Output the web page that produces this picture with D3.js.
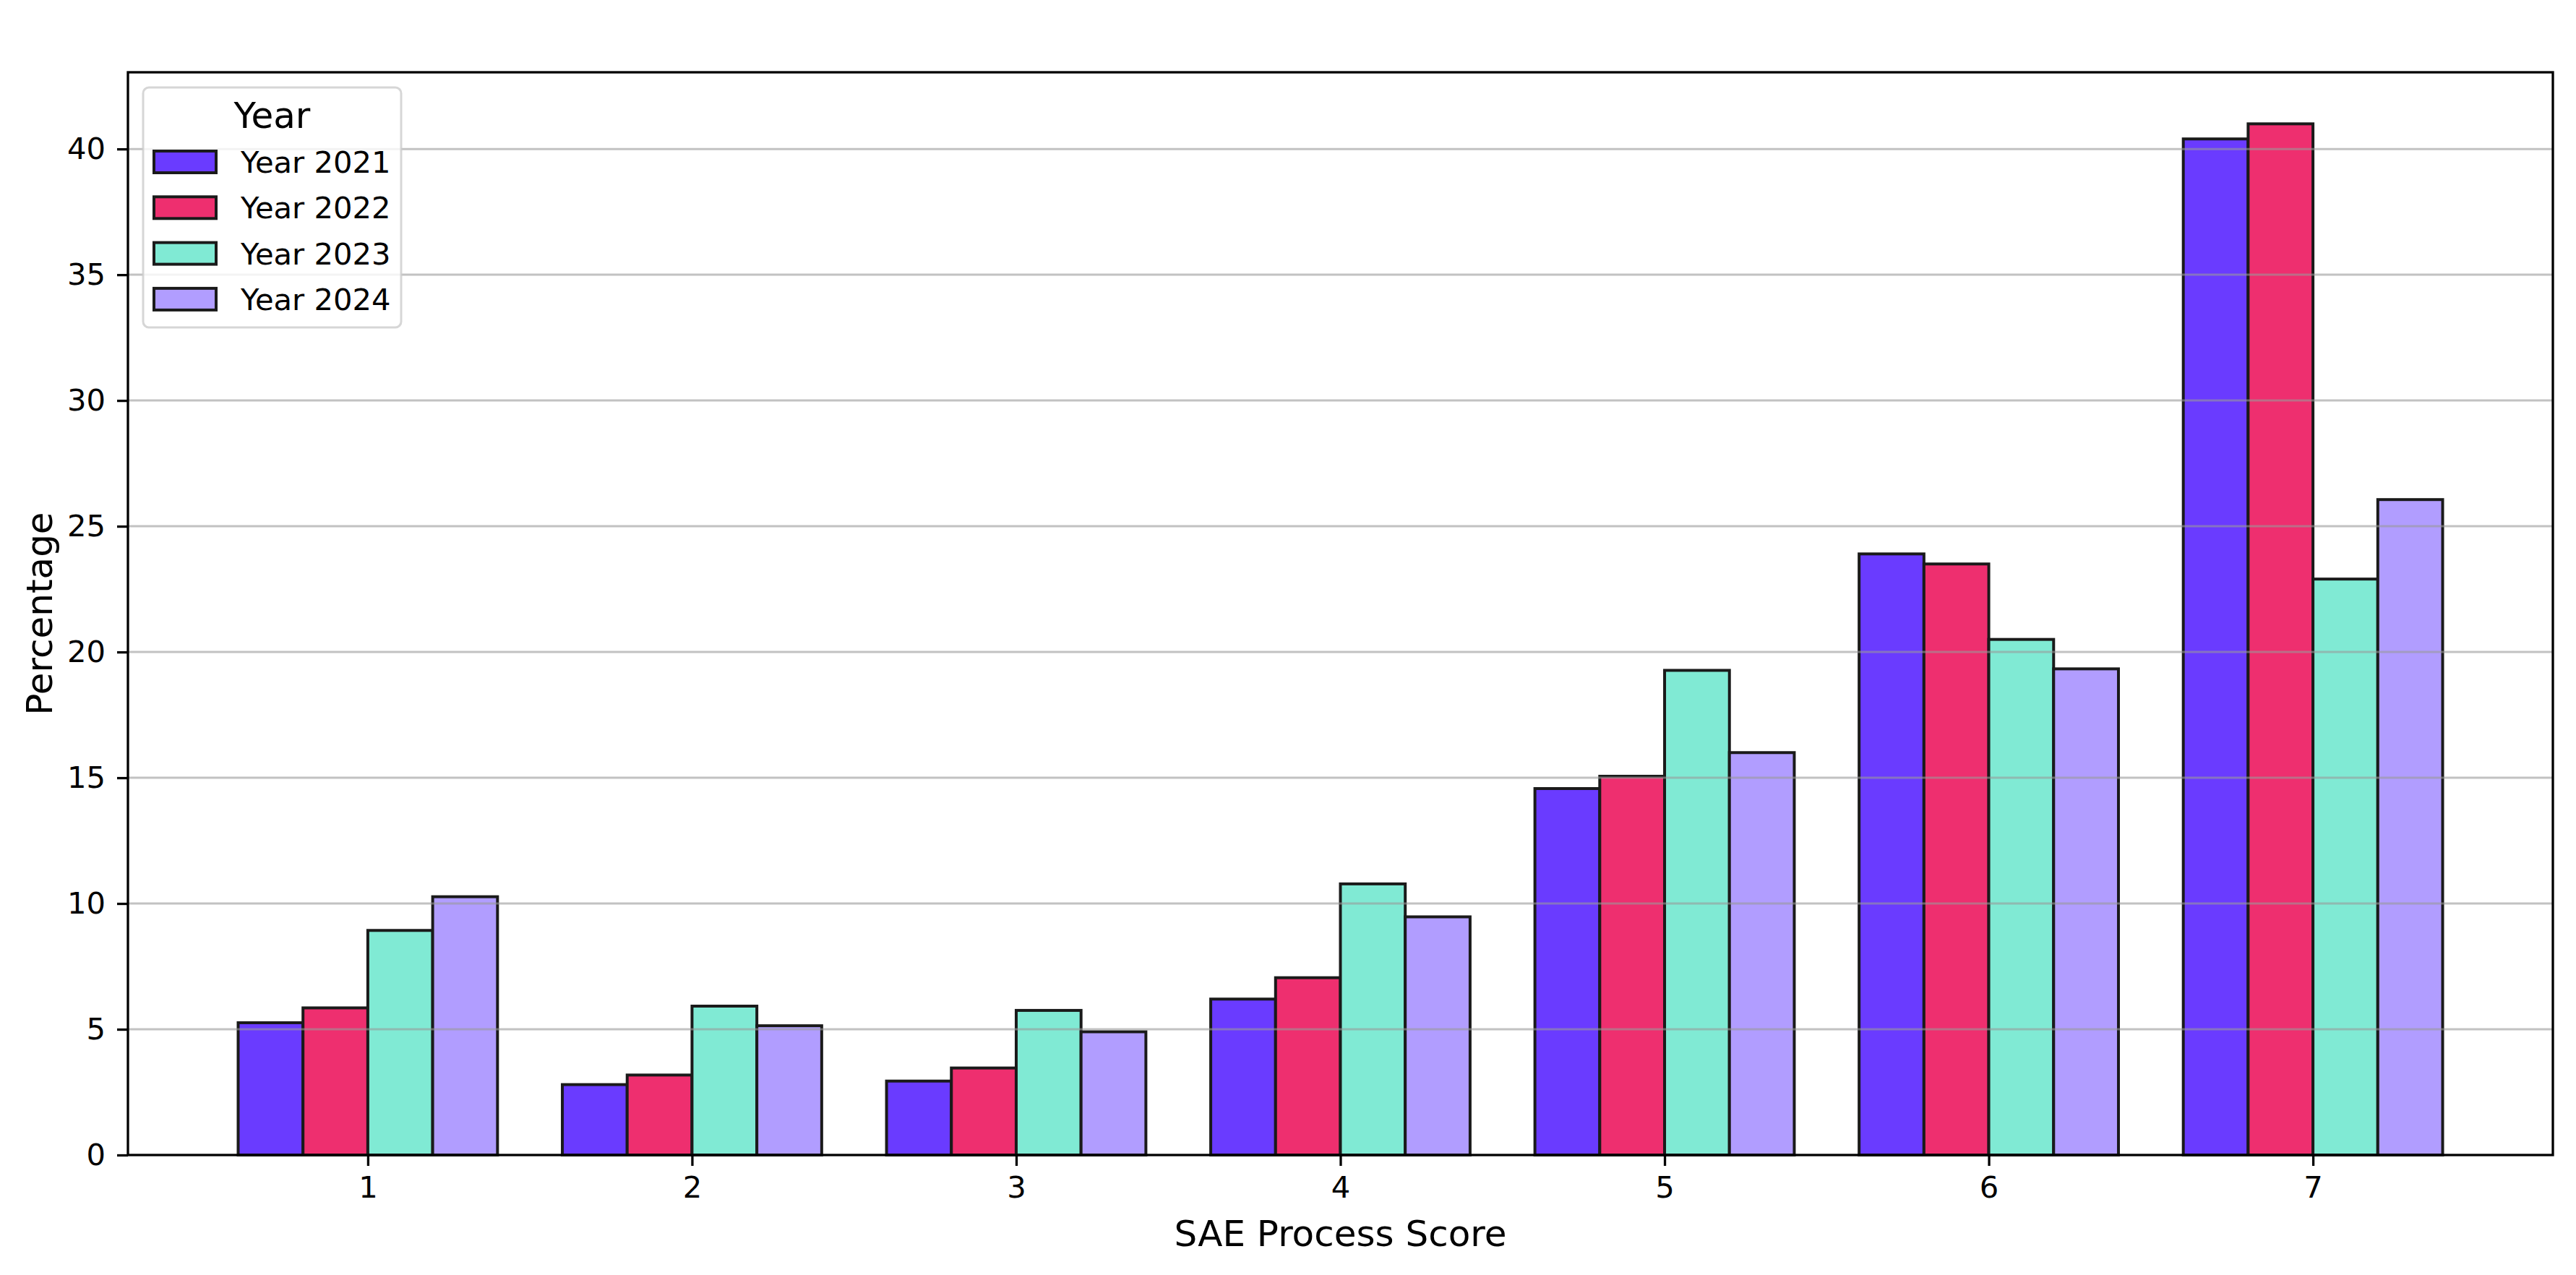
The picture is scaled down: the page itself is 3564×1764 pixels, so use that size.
<!DOCTYPE html>
<html lang="en">
<head>
  <meta charset="UTF-8">
  <title>SAE Process Score</title>
  <script src="https://d3js.org/d3.v7.min.js"></script>
  <style>
    body { margin: 0; background: #fff; }
    text { font-family: "DejaVu Sans", sans-serif; fill: #000; }
  </style>
</head>
<body>
  <script>
    // Data
    const categories = ["1", "2", "3", "4", "5", "6", "7"];
    const years = ["Year 2021", "Year 2022", "Year 2023", "Year 2024"];
    const y2021 = [5.26, 2.80, 2.94, 6.20, 14.57, 23.90, 40.40];
    const y2022 = [5.85, 3.18, 3.46, 7.05, 15.06, 23.50, 41.00];
    const y2023 = [8.93, 5.92, 5.75, 10.78, 19.27, 20.50, 22.90];
    const y2024 = [10.27, 5.14, 4.90, 9.47, 16.00, 19.33, 26.06];
    const yTicks = [0, 5, 10, 15, 20, 25, 30, 35, 40];
    const colors = ["#6a3bff", "#ee2f6f", "#80ead4", "#b19dff"];

    const series = [y2021, y2022, y2023, y2024];

    // Figure size
    const width = 3564;
    const height = 1764;
    const plot = { left: 177, right: 3532, top: 100, bottom: 1598 };

    const svg = d3.select("body")
      .append("svg")
      .attr("width", width)
      .attr("height", height);

    // x in category-index units, padded like matplotlib's default margins
    const x = d3.scaleLinear()
      .domain([-0.74, categories.length - 1 + 0.74])
      .range([plot.left, plot.right]);

    // offset of each year inside a group (data units)
    const sub = d3.scaleBand()
      .domain(years)
      .range([-0.4, 0.4]);

    const ymax = d3.max(series.flat()) * 1.05;
    const y = d3.scaleLinear()
      .domain([0, ymax])
      .range([plot.bottom, plot.top]);

    // Bars
    const groups = svg.append("g")
      .selectAll("g")
      .data(series)
      .enter()
      .append("g")
      .attr("fill", (d, i) => colors[i]);

    groups.selectAll("rect")
      .data((d, i) => d.map((v, j) => ({ v, j, year: years[i] })))
      .enter()
      .append("rect")
      .attr("x", d => x(d.j + sub(d.year)))
      .attr("width", d => x(sub.bandwidth()) - x(0))
      .attr("y", d => y(d.v))
      .attr("height", d => y(0) - y(d.v))
      .attr("stroke", "#1a1a1a")
      .attr("stroke-width", 4);

    // Horizontal grid, drawn over the bars
    svg.append("g")
      .selectAll("line")
      .data(yTicks.slice(1))
      .enter()
      .append("line")
      .attr("x1", plot.left)
      .attr("x2", plot.right)
      .attr("y1", d => y(d))
      .attr("y2", d => y(d))
      .attr("stroke", "#999")
      .attr("stroke-opacity", 0.6)
      .attr("stroke-width", 3);

    // Axes
    const xAxis = d3.axisBottom(x)
      .tickValues(d3.range(categories.length))
      .tickFormat(i => categories[i])
      .tickSize(15)
      .tickPadding(14)
      .tickSizeOuter(0);

    const yAxis = d3.axisLeft(y)
      .tickValues(yTicks)
      .tickSize(15)
      .tickPadding(16)
      .tickSizeOuter(0);

    const gx = svg.append("g")
      .attr("transform", `translate(0,${plot.bottom})`)
      .call(xAxis);
    const gy = svg.append("g")
      .attr("transform", `translate(${plot.left},0)`)
      .call(yAxis);

    [gx, gy].forEach(g => {
      g.select(".domain").remove();
      g.selectAll(".tick line").attr("stroke", "#000").attr("stroke-width", 3.3);
      g.selectAll(".tick text")
        .style("font-family", "DejaVu Sans")
        .style("font-size", "41.7px")
        .attr("fill", "#000");
    });

    // Frame
    svg.append("rect")
      .attr("x", plot.left)
      .attr("y", plot.top)
      .attr("width", plot.right - plot.left)
      .attr("height", plot.bottom - plot.top)
      .attr("fill", "none")
      .attr("stroke", "#000")
      .attr("stroke-width", 3.3);

    // Axis labels
    svg.append("text")
      .attr("x", (plot.left + plot.right) / 2)
      .attr("y", 1724)
      .attr("text-anchor", "middle")
      .style("font-size", "50px")
      .text("SAE Process Score");

    svg.append("text")
      .attr("transform", `translate(72,${(plot.top + plot.bottom) / 2}) rotate(-90)`)
      .attr("text-anchor", "middle")
      .style("font-size", "50px")
      .text("Percentage");

    // Legend
    const legend = svg.append("g").attr("transform", "translate(198,121)");

    legend.append("rect")
      .attr("width", 357)
      .attr("height", 332)
      .attr("rx", 8)
      .attr("fill", "#fff")
      .attr("fill-opacity", 0.8)
      .attr("stroke", "#ccc")
      .attr("stroke-opacity", 0.8)
      .attr("stroke-width", 3);

    legend.append("text")
      .attr("x", 178.5)
      .attr("y", 56)
      .attr("text-anchor", "middle")
      .style("font-size", "50px")
      .text("Year");

    const item = legend.selectAll("g.item")
      .data(years)
      .enter()
      .append("g")
      .attr("class", "item")
      .attr("transform", (d, i) => `translate(0,${103 + i * 63.3})`);

    item.append("rect")
      .attr("x", 15)
      .attr("y", -15)
      .attr("width", 86)
      .attr("height", 30)
      .attr("fill", (d, i) => colors[i])
      .attr("stroke", "#1a1a1a")
      .attr("stroke-width", 4);

    item.append("text")
      .attr("x", 135)
      .attr("y", 15)
      .style("font-size", "41.7px")
      .text(d => d);
  </script>
</body>
</html>
